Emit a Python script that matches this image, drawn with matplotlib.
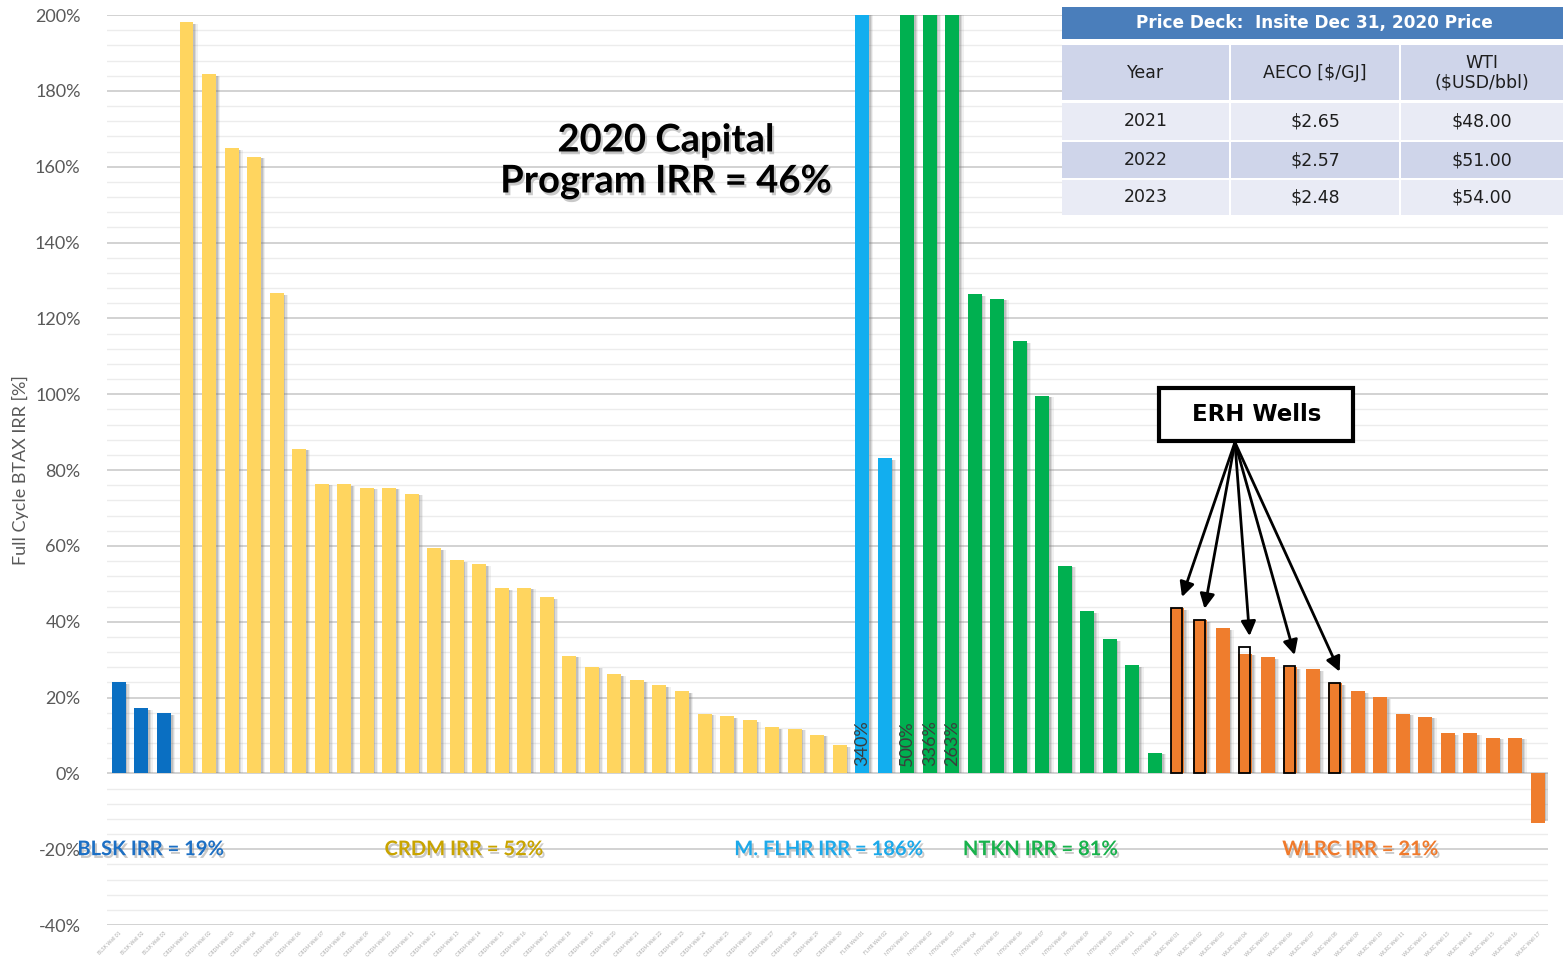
import numpy as np
import matplotlib as mpl

mpl.use('Agg')
import matplotlib.pyplot as plt
from matplotlib import patheffects
from matplotlib.patches import Rectangle
from matplotlib.ticker import MultipleLocator, FuncFormatter

# full cycle BTAX IRR [%] per well, sorted within each area
blsk_irr = [24.0, 17.2, 15.8]
crdm_irr = [198.1, 184.4, 164.8, 162.6, 126.6, 85.6, 76.4, 76.2, 75.3, 75.3,
            73.8, 59.3, 56.2, 55.1, 48.8, 48.9, 46.5, 31.0, 28.1, 26.2,
            24.5, 23.2, 21.7, 15.7, 15.1, 14.0, 12.2, 11.8, 10.2, 7.4]
flhr_irr = [340.0, 83.1]
ntkn_irr = [500.0, 336.0, 263.0, 126.3, 125.2, 114.0, 99.6, 54.7, 42.7, 35.4, 28.5, 5.4]
wlrc_irr = [43.5, 40.4, 38.3, 31.5, 30.6, 28.0, 27.4, 23.7, 21.7, 20.1,
            15.7, 14.9, 10.6, 10.6, 9.4, 9.4, -13.1]

# ERH wells inside the WLRC group (position in group, outlined IRR)
erh_pos = [0, 1, 3, 5, 7]
erh_irr = [43.5, 40.4, 33.2, 28.2, 23.8]

# area summary
area_names = ['BLSK', 'CRDM', 'M. FLHR', 'NTKN', 'WLRC']
area_irr = [19, 52, 186, 81, 21]
program_irr = 46

# price deck
deck_years = ['2021', '2022', '2023']
deck_aeco = ['$2.65', '$2.57', '$2.48']
deck_wti = ['$48.00', '$51.00', '$54.00']

bar_colors = ['#0a6fc2', '#ffd55f', '#12aeef', '#00b050', '#ef7d2d']
label_colors = ['#1c6fc4', '#c9a400', '#1ca9ea', '#18b24c', '#f07a2c']
label_x = [1.4, 15.3, 31.5, 40.9, 55.1]

groups = [blsk_irr, crdm_irr, flhr_irr, ntkn_irr, wlrc_irr]
values = np.array([v for g in groups for v in g])
colors = [c for g, c in zip(groups, bar_colors) for _ in g]
x = np.arange(len(values))
wlrc_start = len(values) - len(wlrc_irr)

# well name tick labels
tick_labels = ['%s Well %02d' % (n.replace('M. ', ''), k + 1)
               for n, g in zip(area_names, groups) for k in range(len(g))]

plt.rcParams['font.family'] = ['Lato', 'DejaVu Sans']

fig = plt.figure(figsize=(15.63, 9.58), dpi=100)
ax = fig.add_axes([107 / 1563, 33 / 958, 1441 / 1563, 910 / 958])

# soft drop shadow behind the bars
for off, a in [(0.07, 0.24), (0.13, 0.17), (0.19, 0.1)]:
    ax.bar(x + off, values - np.sign(values) * 0.4, width=0.62, color='#6f6f6f',
           alpha=a, linewidth=0, zorder=2)
ax.bar(x, values, width=0.62, color=colors, linewidth=0, zorder=3)

# outline the ERH wells
ax.bar([wlrc_start + p - 0.03 for p in erh_pos], erh_irr, width=0.48, fill=False,
       edgecolor='black', linewidth=1.3, zorder=4)

ax.set_xlim(-0.53, len(values) - 0.55)
ax.set_ylim(-40, 200)

# values for bars running off the top
for i, v in zip(x, values):
    if v > 200:
        ax.text(i, 2, '%d%%' % v, rotation=90, ha='center', va='bottom',
                fontsize=13, color='#3c3c3c', zorder=5)

ax.yaxis.set_major_locator(MultipleLocator(20))
ax.yaxis.set_minor_locator(MultipleLocator(4))
ax.yaxis.set_major_formatter(FuncFormatter(lambda v, _: '%d%%' % v))
ax.grid(which='major', axis='y', color='#d2d2d2', linewidth=1.4)
ax.grid(which='minor', axis='y', color='#ececec', linewidth=1.0)
ax.set_axisbelow(True)
ax.tick_params(axis='y', which='both', length=0, pad=19, labelsize=13,
               labelcolor='#595959')
ax.tick_params(axis='x', length=0, pad=4)
ax.set_xticks(x)
ax.set_xticklabels(tick_labels, rotation=45, ha='right', rotation_mode='anchor',
                   fontsize=3.6, color='#a8a8a8')
for s in ax.spines.values():
    s.set_visible(False)

ax.set_ylabel('Full Cycle BTAX IRR [%]', fontsize=13, color='#595959')
ax.yaxis.set_label_coords(-0.054, 0.5)

shadow = [patheffects.withSimplePatchShadow(offset=(1.5, -2), shadow_rgbFace='#888888', alpha=0.45)]

ax.text(24.3, 161.5, '2020 Capital\nProgram IRR = %d%%' % program_irr, ha='center',
        va='center', fontsize=27.5, fontweight='bold', linespacing=1.25, color='black',
        zorder=6, path_effects=shadow)

for name, irr, c, lx in zip(area_names, area_irr, label_colors, label_x):
    ax.text(lx, -20, '%s IRR = %d%%' % (name, irr), ha='center', va='center',
            fontsize=14.5, fontweight='bold', color=c, zorder=6, path_effects=shadow)

# ERH callout
ax.add_patch(Rectangle((46.2, 87.6), 8.6, 14.0, facecolor='white', edgecolor='black',
                       linewidth=3, zorder=7))
ax.text(50.5, 94.6, 'ERH Wells', ha='center', va='center', fontsize=16.5,
        fontweight='bold', family='DejaVu Sans', zorder=8)
for p, v in zip(erh_pos, erh_irr):
    ax.annotate('', xy=(wlrc_start + p + 0.2, v + 3), xytext=(49.55, 87.3),
                arrowprops=dict(arrowstyle='-|>', color='black', lw=2,
                                mutation_scale=22, shrinkA=0, shrinkB=0),
                zorder=7)

# price deck table
tab = fig.add_axes([1062 / 1563, 1 - 215 / 958, 501 / 1563, 210 / 958])
tab.set_xlim(0, 501)
tab.set_ylim(210, 0)
tab.axis('off')
tab.add_patch(Rectangle((0, 0), 501, 210, facecolor='white', edgecolor='none'))
tab.add_patch(Rectangle((0, 2), 501, 32, facecolor='#4a7ebb', edgecolor='none'))
tab.text(252, 18, 'Price Deck:  Insite Dec 31, 2020 Price', ha='center', va='center',
         color='white', fontsize=12.2, fontweight='bold', family='DejaVu Sans')

col_left = [0, 169, 339]
col_width = [167, 168, 162]
rows = [['Year', 'AECO [$/GJ]', 'WTI\n($USD/bbl)']] + \
       [[y, a, w] for y, a, w in zip(deck_years, deck_aeco, deck_wti)]
row_top = [40, 98, 137, 175]
row_height = [55, 37, 36, 35]
row_color = ['#cfd5ea', '#e9ebf5', '#cfd5ea', '#e9ebf5']
for cells, top, h, rc in zip(rows, row_top, row_height, row_color):
    for text, left, w in zip(cells, col_left, col_width):
        tab.add_patch(Rectangle((left, top), w, h, facecolor=rc, edgecolor='none'))
        tab.text(left + w / 2, top + h / 2, text, ha='center', va='center',
                 fontsize=12.5, color='#1e1e1e', family='DejaVu Sans', linespacing=1.1)

fig.savefig('out.png', dpi=100, facecolor='white')
plt.close(fig)
